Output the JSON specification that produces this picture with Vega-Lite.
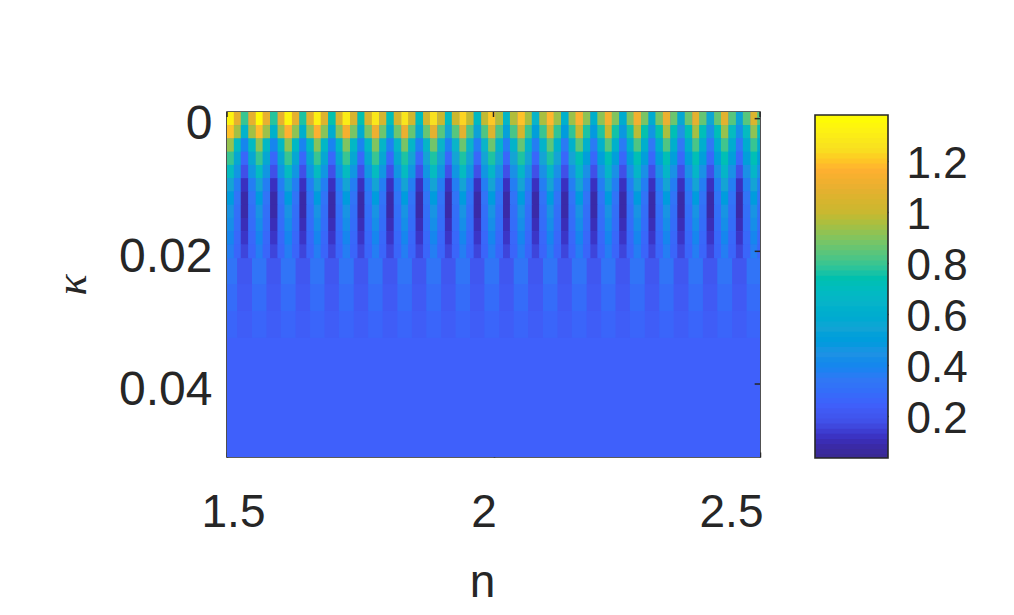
{"$schema":"https://vega.github.io/schema/vega-lite/v6.json","padding":{"left":49,"top":99,"right":0,"bottom":0},"background":"white","spacing":50,"config":{"font":"Liberation Sans","axis":{"grid":false}},
"datasets":{"h":[
{"n":1.506,"k":0,"v":1.33},{"n":1.52,"k":0,"v":1.09},{"n":1.533,"k":0,"v":0.8},{"n":1.547,"k":0,"v":1.09},{"n":1.561,"k":0,"v":1.36},{"n":1.574,"k":0,"v":1.1},{"n":1.588,"k":0,"v":0.78},{"n":1.602,"k":0,"v":1.1},{"n":1.615,"k":0,"v":1.34},{"n":1.629,"k":0,"v":1.09},{"n":1.643,"k":0,"v":0.77},{"n":1.656,"k":0,"v":1.09},{"n":1.67,"k":0,"v":1.32},{"n":1.683,"k":0,"v":1.07},{"n":1.697,"k":0,"v":0.75},{"n":1.711,"k":0,"v":1.07},{"n":1.724,"k":0,"v":1.3},{"n":1.738,"k":0,"v":1.05},{"n":1.752,"k":0,"v":0.74},{"n":1.765,"k":0,"v":1.05},{"n":1.779,"k":0,"v":1.28},{"n":1.793,"k":0,"v":1.04},{"n":1.806,"k":0,"v":0.72},{"n":1.82,"k":0,"v":1.04},{"n":1.834,"k":0,"v":1.27},{"n":1.847,"k":0,"v":1.03},{"n":1.861,"k":0,"v":0.71},{"n":1.875,"k":0,"v":1.03},{"n":1.888,"k":0,"v":1.25},{"n":1.902,"k":0,"v":1.01},{"n":1.916,"k":0,"v":0.69},{"n":1.929,"k":0,"v":1.01},{"n":1.943,"k":0,"v":1.23},{"n":1.956,"k":0,"v":0.99},{"n":1.97,"k":0,"v":0.68},{"n":1.984,"k":0,"v":0.99},{"n":1.997,"k":0,"v":1.21},{"n":2.011,"k":0,"v":0.97},{"n":2.025,"k":0,"v":0.66},{"n":2.038,"k":0,"v":0.97},{"n":2.052,"k":0,"v":1.2},{"n":2.066,"k":0,"v":0.96},{"n":2.079,"k":0,"v":0.65},{"n":2.093,"k":0,"v":0.96},{"n":2.107,"k":0,"v":1.18},{"n":2.12,"k":0,"v":0.94},{"n":2.134,"k":0,"v":0.63},{"n":2.148,"k":0,"v":0.94},{"n":2.161,"k":0,"v":1.16},{"n":2.175,"k":0,"v":0.92},{"n":2.189,"k":0,"v":0.62},{"n":2.202,"k":0,"v":0.92},{"n":2.216,"k":0,"v":1.14},{"n":2.229,"k":0,"v":0.9},{"n":2.243,"k":0,"v":0.6},{"n":2.257,"k":0,"v":0.9},{"n":2.27,"k":0,"v":1.13},{"n":2.284,"k":0,"v":0.89},{"n":2.298,"k":0,"v":0.59},{"n":2.311,"k":0,"v":0.89},{"n":2.325,"k":0,"v":1.11},{"n":2.339,"k":0,"v":0.87},{"n":2.352,"k":0,"v":0.57},{"n":2.366,"k":0,"v":0.87},{"n":2.38,"k":0,"v":1.09},{"n":2.393,"k":0,"v":0.86},{"n":2.407,"k":0,"v":0.56},{"n":2.421,"k":0,"v":0.86},{"n":2.434,"k":0,"v":1.08},{"n":2.448,"k":0,"v":0.84},{"n":2.462,"k":0,"v":0.54},{"n":2.475,"k":0,"v":0.84},{"n":2.489,"k":0,"v":1.06},{"n":2.502,"k":0,"v":0.83},
{"n":1.506,"k":0.002,"v":1.2},{"n":1.52,"k":0.002,"v":0.95},{"n":1.533,"k":0.002,"v":0.64},{"n":1.547,"k":0.002,"v":0.95},{"n":1.561,"k":0.002,"v":1.19},{"n":1.574,"k":0.002,"v":0.94},{"n":1.588,"k":0.002,"v":0.63},{"n":1.602,"k":0.002,"v":0.94},{"n":1.615,"k":0.002,"v":1.17},{"n":1.629,"k":0.002,"v":0.92},{"n":1.643,"k":0.002,"v":0.62},{"n":1.656,"k":0.002,"v":0.92},{"n":1.67,"k":0.002,"v":1.16},{"n":1.683,"k":0.002,"v":0.91},{"n":1.697,"k":0.002,"v":0.6},{"n":1.711,"k":0.002,"v":0.91},{"n":1.724,"k":0.002,"v":1.14},{"n":1.738,"k":0.002,"v":0.89},{"n":1.752,"k":0.002,"v":0.59},{"n":1.765,"k":0.002,"v":0.89},{"n":1.779,"k":0.002,"v":1.12},{"n":1.793,"k":0.002,"v":0.87},{"n":1.806,"k":0.002,"v":0.58},{"n":1.82,"k":0.002,"v":0.87},{"n":1.834,"k":0.002,"v":1.11},{"n":1.847,"k":0.002,"v":0.86},{"n":1.861,"k":0.002,"v":0.57},{"n":1.875,"k":0.002,"v":0.86},{"n":1.888,"k":0.002,"v":1.09},{"n":1.902,"k":0.002,"v":0.84},{"n":1.916,"k":0.002,"v":0.55},{"n":1.929,"k":0.002,"v":0.84},{"n":1.943,"k":0.002,"v":1.08},{"n":1.956,"k":0.002,"v":0.83},{"n":1.97,"k":0.002,"v":0.54},{"n":1.984,"k":0.002,"v":0.83},{"n":1.997,"k":0.002,"v":1.06},{"n":2.011,"k":0.002,"v":0.82},{"n":2.025,"k":0.002,"v":0.53},{"n":2.038,"k":0.002,"v":0.82},{"n":2.052,"k":0.002,"v":1.04},{"n":2.066,"k":0.002,"v":0.8},{"n":2.079,"k":0.002,"v":0.52},{"n":2.093,"k":0.002,"v":0.8},{"n":2.107,"k":0.002,"v":1.03},{"n":2.12,"k":0.002,"v":0.79},{"n":2.134,"k":0.002,"v":0.5},{"n":2.148,"k":0.002,"v":0.79},{"n":2.161,"k":0.002,"v":1.01},{"n":2.175,"k":0.002,"v":0.77},{"n":2.189,"k":0.002,"v":0.49},{"n":2.202,"k":0.002,"v":0.77},{"n":2.216,"k":0.002,"v":1.0},{"n":2.229,"k":0.002,"v":0.76},{"n":2.243,"k":0.002,"v":0.48},{"n":2.257,"k":0.002,"v":0.76},{"n":2.27,"k":0.002,"v":0.98},{"n":2.284,"k":0.002,"v":0.75},{"n":2.298,"k":0.002,"v":0.47},{"n":2.311,"k":0.002,"v":0.75},{"n":2.325,"k":0.002,"v":0.96},{"n":2.339,"k":0.002,"v":0.73},{"n":2.352,"k":0.002,"v":0.45},{"n":2.366,"k":0.002,"v":0.73},{"n":2.38,"k":0.002,"v":0.95},{"n":2.393,"k":0.002,"v":0.72},{"n":2.407,"k":0.002,"v":0.44},{"n":2.421,"k":0.002,"v":0.72},{"n":2.434,"k":0.002,"v":0.93},{"n":2.448,"k":0.002,"v":0.7},{"n":2.462,"k":0.002,"v":0.43},{"n":2.475,"k":0.002,"v":0.7},{"n":2.489,"k":0.002,"v":0.92},{"n":2.502,"k":0.002,"v":0.69},
{"n":1.506,"k":0.004,"v":0.93},{"n":1.52,"k":0.004,"v":0.69},{"n":1.533,"k":0.004,"v":0.4},{"n":1.547,"k":0.004,"v":0.69},{"n":1.561,"k":0.004,"v":0.92},{"n":1.574,"k":0.004,"v":0.68},{"n":1.588,"k":0.004,"v":0.4},{"n":1.602,"k":0.004,"v":0.68},{"n":1.615,"k":0.004,"v":0.92},{"n":1.629,"k":0.004,"v":0.68},{"n":1.643,"k":0.004,"v":0.39},{"n":1.656,"k":0.004,"v":0.68},{"n":1.67,"k":0.004,"v":0.91},{"n":1.683,"k":0.004,"v":0.67},{"n":1.697,"k":0.004,"v":0.39},{"n":1.711,"k":0.004,"v":0.67},{"n":1.724,"k":0.004,"v":0.9},{"n":1.738,"k":0.004,"v":0.67},{"n":1.752,"k":0.004,"v":0.39},{"n":1.765,"k":0.004,"v":0.67},{"n":1.779,"k":0.004,"v":0.9},{"n":1.793,"k":0.004,"v":0.66},{"n":1.806,"k":0.004,"v":0.38},{"n":1.82,"k":0.004,"v":0.66},{"n":1.834,"k":0.004,"v":0.89},{"n":1.847,"k":0.004,"v":0.66},{"n":1.861,"k":0.004,"v":0.38},{"n":1.875,"k":0.004,"v":0.66},{"n":1.888,"k":0.004,"v":0.88},{"n":1.902,"k":0.004,"v":0.65},{"n":1.916,"k":0.004,"v":0.38},{"n":1.929,"k":0.004,"v":0.65},{"n":1.943,"k":0.004,"v":0.87},{"n":1.956,"k":0.004,"v":0.65},{"n":1.97,"k":0.004,"v":0.37},{"n":1.984,"k":0.004,"v":0.65},{"n":1.997,"k":0.004,"v":0.87},{"n":2.011,"k":0.004,"v":0.64},{"n":2.025,"k":0.004,"v":0.37},{"n":2.038,"k":0.004,"v":0.64},{"n":2.052,"k":0.004,"v":0.86},{"n":2.066,"k":0.004,"v":0.64},{"n":2.079,"k":0.004,"v":0.37},{"n":2.093,"k":0.004,"v":0.64},{"n":2.107,"k":0.004,"v":0.85},{"n":2.12,"k":0.004,"v":0.63},{"n":2.134,"k":0.004,"v":0.36},{"n":2.148,"k":0.004,"v":0.63},{"n":2.161,"k":0.004,"v":0.85},{"n":2.175,"k":0.004,"v":0.63},{"n":2.189,"k":0.004,"v":0.36},{"n":2.202,"k":0.004,"v":0.63},{"n":2.216,"k":0.004,"v":0.84},{"n":2.229,"k":0.004,"v":0.63},{"n":2.243,"k":0.004,"v":0.36},{"n":2.257,"k":0.004,"v":0.63},{"n":2.27,"k":0.004,"v":0.83},{"n":2.284,"k":0.004,"v":0.62},{"n":2.298,"k":0.004,"v":0.35},{"n":2.311,"k":0.004,"v":0.62},{"n":2.325,"k":0.004,"v":0.83},{"n":2.339,"k":0.004,"v":0.62},{"n":2.352,"k":0.004,"v":0.35},{"n":2.366,"k":0.004,"v":0.62},{"n":2.38,"k":0.004,"v":0.82},{"n":2.393,"k":0.004,"v":0.61},{"n":2.407,"k":0.004,"v":0.35},{"n":2.421,"k":0.004,"v":0.61},{"n":2.434,"k":0.004,"v":0.81},{"n":2.448,"k":0.004,"v":0.6},{"n":2.462,"k":0.004,"v":0.34},{"n":2.475,"k":0.004,"v":0.6},{"n":2.489,"k":0.004,"v":0.8},{"n":2.502,"k":0.004,"v":0.6},
{"n":1.506,"k":0.006,"v":0.8},{"n":1.52,"k":0.006,"v":0.57},{"n":1.533,"k":0.006,"v":0.28},{"n":1.547,"k":0.006,"v":0.57},{"n":1.561,"k":0.006,"v":0.8},{"n":1.574,"k":0.006,"v":0.57},{"n":1.588,"k":0.006,"v":0.28},{"n":1.602,"k":0.006,"v":0.57},{"n":1.615,"k":0.006,"v":0.8},{"n":1.629,"k":0.006,"v":0.57},{"n":1.643,"k":0.006,"v":0.28},{"n":1.656,"k":0.006,"v":0.57},{"n":1.67,"k":0.006,"v":0.8},{"n":1.683,"k":0.006,"v":0.57},{"n":1.697,"k":0.006,"v":0.28},{"n":1.711,"k":0.006,"v":0.57},{"n":1.724,"k":0.006,"v":0.8},{"n":1.738,"k":0.006,"v":0.57},{"n":1.752,"k":0.006,"v":0.28},{"n":1.765,"k":0.006,"v":0.57},{"n":1.779,"k":0.006,"v":0.8},{"n":1.793,"k":0.006,"v":0.57},{"n":1.806,"k":0.006,"v":0.28},{"n":1.82,"k":0.006,"v":0.57},{"n":1.834,"k":0.006,"v":0.77},{"n":1.847,"k":0.006,"v":0.55},{"n":1.861,"k":0.006,"v":0.28},{"n":1.875,"k":0.006,"v":0.55},{"n":1.888,"k":0.006,"v":0.77},{"n":1.902,"k":0.006,"v":0.55},{"n":1.916,"k":0.006,"v":0.28},{"n":1.929,"k":0.006,"v":0.55},{"n":1.943,"k":0.006,"v":0.77},{"n":1.956,"k":0.006,"v":0.55},{"n":1.97,"k":0.006,"v":0.28},{"n":1.984,"k":0.006,"v":0.55},{"n":1.997,"k":0.006,"v":0.77},{"n":2.011,"k":0.006,"v":0.55},{"n":2.025,"k":0.006,"v":0.28},{"n":2.038,"k":0.006,"v":0.55},{"n":2.052,"k":0.006,"v":0.77},{"n":2.066,"k":0.006,"v":0.55},{"n":2.079,"k":0.006,"v":0.28},{"n":2.093,"k":0.006,"v":0.55},{"n":2.107,"k":0.006,"v":0.77},{"n":2.12,"k":0.006,"v":0.55},{"n":2.134,"k":0.006,"v":0.28},{"n":2.148,"k":0.006,"v":0.55},{"n":2.161,"k":0.006,"v":0.73},{"n":2.175,"k":0.006,"v":0.52},{"n":2.189,"k":0.006,"v":0.28},{"n":2.202,"k":0.006,"v":0.52},{"n":2.216,"k":0.006,"v":0.73},{"n":2.229,"k":0.006,"v":0.52},{"n":2.243,"k":0.006,"v":0.28},{"n":2.257,"k":0.006,"v":0.52},{"n":2.27,"k":0.006,"v":0.73},{"n":2.284,"k":0.006,"v":0.52},{"n":2.298,"k":0.006,"v":0.28},{"n":2.311,"k":0.006,"v":0.52},{"n":2.325,"k":0.006,"v":0.73},{"n":2.339,"k":0.006,"v":0.52},{"n":2.352,"k":0.006,"v":0.28},{"n":2.366,"k":0.006,"v":0.52},{"n":2.38,"k":0.006,"v":0.73},{"n":2.393,"k":0.006,"v":0.52},{"n":2.407,"k":0.006,"v":0.28},{"n":2.421,"k":0.006,"v":0.52},{"n":2.434,"k":0.006,"v":0.73},{"n":2.448,"k":0.006,"v":0.52},{"n":2.462,"k":0.006,"v":0.28},{"n":2.475,"k":0.006,"v":0.52},{"n":2.489,"k":0.006,"v":0.73},{"n":2.502,"k":0.006,"v":0.52},
{"n":1.506,"k":0.008,"v":0.7},{"n":1.52,"k":0.008,"v":0.47},{"n":1.533,"k":0.008,"v":0.18},{"n":1.547,"k":0.008,"v":0.47},{"n":1.561,"k":0.008,"v":0.7},{"n":1.574,"k":0.008,"v":0.47},{"n":1.588,"k":0.008,"v":0.18},{"n":1.602,"k":0.008,"v":0.47},{"n":1.615,"k":0.008,"v":0.7},{"n":1.629,"k":0.008,"v":0.47},{"n":1.643,"k":0.008,"v":0.18},{"n":1.656,"k":0.008,"v":0.47},{"n":1.67,"k":0.008,"v":0.7},{"n":1.683,"k":0.008,"v":0.47},{"n":1.697,"k":0.008,"v":0.18},{"n":1.711,"k":0.008,"v":0.47},{"n":1.724,"k":0.008,"v":0.7},{"n":1.738,"k":0.008,"v":0.47},{"n":1.752,"k":0.008,"v":0.18},{"n":1.765,"k":0.008,"v":0.47},{"n":1.779,"k":0.008,"v":0.7},{"n":1.793,"k":0.008,"v":0.47},{"n":1.806,"k":0.008,"v":0.18},{"n":1.82,"k":0.008,"v":0.47},{"n":1.834,"k":0.008,"v":0.7},{"n":1.847,"k":0.008,"v":0.47},{"n":1.861,"k":0.008,"v":0.18},{"n":1.875,"k":0.008,"v":0.47},{"n":1.888,"k":0.008,"v":0.7},{"n":1.902,"k":0.008,"v":0.47},{"n":1.916,"k":0.008,"v":0.18},{"n":1.929,"k":0.008,"v":0.47},{"n":1.943,"k":0.008,"v":0.7},{"n":1.956,"k":0.008,"v":0.47},{"n":1.97,"k":0.008,"v":0.18},{"n":1.984,"k":0.008,"v":0.47},{"n":1.997,"k":0.008,"v":0.66},{"n":2.011,"k":0.008,"v":0.44},{"n":2.025,"k":0.008,"v":0.18},{"n":2.038,"k":0.008,"v":0.44},{"n":2.052,"k":0.008,"v":0.66},{"n":2.066,"k":0.008,"v":0.44},{"n":2.079,"k":0.008,"v":0.18},{"n":2.093,"k":0.008,"v":0.44},{"n":2.107,"k":0.008,"v":0.66},{"n":2.12,"k":0.008,"v":0.44},{"n":2.134,"k":0.008,"v":0.18},{"n":2.148,"k":0.008,"v":0.44},{"n":2.161,"k":0.008,"v":0.66},{"n":2.175,"k":0.008,"v":0.44},{"n":2.189,"k":0.008,"v":0.18},{"n":2.202,"k":0.008,"v":0.44},{"n":2.216,"k":0.008,"v":0.66},{"n":2.229,"k":0.008,"v":0.44},{"n":2.243,"k":0.008,"v":0.18},{"n":2.257,"k":0.008,"v":0.44},{"n":2.27,"k":0.008,"v":0.66},{"n":2.284,"k":0.008,"v":0.44},{"n":2.298,"k":0.008,"v":0.18},{"n":2.311,"k":0.008,"v":0.44},{"n":2.325,"k":0.008,"v":0.66},{"n":2.339,"k":0.008,"v":0.44},{"n":2.352,"k":0.008,"v":0.18},{"n":2.366,"k":0.008,"v":0.44},{"n":2.38,"k":0.008,"v":0.66},{"n":2.393,"k":0.008,"v":0.44},{"n":2.407,"k":0.008,"v":0.18},{"n":2.421,"k":0.008,"v":0.44},{"n":2.434,"k":0.008,"v":0.66},{"n":2.448,"k":0.008,"v":0.44},{"n":2.462,"k":0.008,"v":0.18},{"n":2.475,"k":0.008,"v":0.44},{"n":2.489,"k":0.008,"v":0.66},{"n":2.502,"k":0.008,"v":0.44},
{"n":1.506,"k":0.01,"v":0.55},{"n":1.52,"k":0.01,"v":0.37},{"n":1.533,"k":0.01,"v":0.12},{"n":1.547,"k":0.01,"v":0.37},{"n":1.561,"k":0.01,"v":0.55},{"n":1.574,"k":0.01,"v":0.37},{"n":1.588,"k":0.01,"v":0.12},{"n":1.602,"k":0.01,"v":0.37},{"n":1.615,"k":0.01,"v":0.55},{"n":1.629,"k":0.01,"v":0.37},{"n":1.643,"k":0.01,"v":0.12},{"n":1.656,"k":0.01,"v":0.37},{"n":1.67,"k":0.01,"v":0.55},{"n":1.683,"k":0.01,"v":0.37},{"n":1.697,"k":0.01,"v":0.12},{"n":1.711,"k":0.01,"v":0.37},{"n":1.724,"k":0.01,"v":0.55},{"n":1.738,"k":0.01,"v":0.37},{"n":1.752,"k":0.01,"v":0.12},{"n":1.765,"k":0.01,"v":0.37},{"n":1.779,"k":0.01,"v":0.55},{"n":1.793,"k":0.01,"v":0.37},{"n":1.806,"k":0.01,"v":0.12},{"n":1.82,"k":0.01,"v":0.37},{"n":1.834,"k":0.01,"v":0.55},{"n":1.847,"k":0.01,"v":0.37},{"n":1.861,"k":0.01,"v":0.12},{"n":1.875,"k":0.01,"v":0.37},{"n":1.888,"k":0.01,"v":0.55},{"n":1.902,"k":0.01,"v":0.37},{"n":1.916,"k":0.01,"v":0.12},{"n":1.929,"k":0.01,"v":0.37},{"n":1.943,"k":0.01,"v":0.55},{"n":1.956,"k":0.01,"v":0.37},{"n":1.97,"k":0.01,"v":0.12},{"n":1.984,"k":0.01,"v":0.37},{"n":1.997,"k":0.01,"v":0.55},{"n":2.011,"k":0.01,"v":0.37},{"n":2.025,"k":0.01,"v":0.12},{"n":2.038,"k":0.01,"v":0.37},{"n":2.052,"k":0.01,"v":0.55},{"n":2.066,"k":0.01,"v":0.37},{"n":2.079,"k":0.01,"v":0.12},{"n":2.093,"k":0.01,"v":0.37},{"n":2.107,"k":0.01,"v":0.55},{"n":2.12,"k":0.01,"v":0.37},{"n":2.134,"k":0.01,"v":0.12},{"n":2.148,"k":0.01,"v":0.37},{"n":2.161,"k":0.01,"v":0.55},{"n":2.175,"k":0.01,"v":0.37},{"n":2.189,"k":0.01,"v":0.12},{"n":2.202,"k":0.01,"v":0.37},{"n":2.216,"k":0.01,"v":0.55},{"n":2.229,"k":0.01,"v":0.37},{"n":2.243,"k":0.01,"v":0.12},{"n":2.257,"k":0.01,"v":0.37},{"n":2.27,"k":0.01,"v":0.55},{"n":2.284,"k":0.01,"v":0.37},{"n":2.298,"k":0.01,"v":0.12},{"n":2.311,"k":0.01,"v":0.37},{"n":2.325,"k":0.01,"v":0.55},{"n":2.339,"k":0.01,"v":0.37},{"n":2.352,"k":0.01,"v":0.12},{"n":2.366,"k":0.01,"v":0.37},{"n":2.38,"k":0.01,"v":0.55},{"n":2.393,"k":0.01,"v":0.37},{"n":2.407,"k":0.01,"v":0.12},{"n":2.421,"k":0.01,"v":0.37},{"n":2.434,"k":0.01,"v":0.55},{"n":2.448,"k":0.01,"v":0.37},{"n":2.462,"k":0.01,"v":0.12},{"n":2.475,"k":0.01,"v":0.37},{"n":2.489,"k":0.01,"v":0.55},{"n":2.502,"k":0.01,"v":0.37},
{"n":1.506,"k":0.012,"v":0.5},{"n":1.52,"k":0.012,"v":0.33},{"n":1.533,"k":0.012,"v":0.09},{"n":1.547,"k":0.012,"v":0.33},{"n":1.561,"k":0.012,"v":0.5},{"n":1.574,"k":0.012,"v":0.33},{"n":1.588,"k":0.012,"v":0.09},{"n":1.602,"k":0.012,"v":0.33},{"n":1.615,"k":0.012,"v":0.5},{"n":1.629,"k":0.012,"v":0.33},{"n":1.643,"k":0.012,"v":0.09},{"n":1.656,"k":0.012,"v":0.33},{"n":1.67,"k":0.012,"v":0.5},{"n":1.683,"k":0.012,"v":0.33},{"n":1.697,"k":0.012,"v":0.09},{"n":1.711,"k":0.012,"v":0.33},{"n":1.724,"k":0.012,"v":0.5},{"n":1.738,"k":0.012,"v":0.33},{"n":1.752,"k":0.012,"v":0.09},{"n":1.765,"k":0.012,"v":0.33},{"n":1.779,"k":0.012,"v":0.5},{"n":1.793,"k":0.012,"v":0.33},{"n":1.806,"k":0.012,"v":0.09},{"n":1.82,"k":0.012,"v":0.33},{"n":1.834,"k":0.012,"v":0.5},{"n":1.847,"k":0.012,"v":0.33},{"n":1.861,"k":0.012,"v":0.09},{"n":1.875,"k":0.012,"v":0.33},{"n":1.888,"k":0.012,"v":0.5},{"n":1.902,"k":0.012,"v":0.33},{"n":1.916,"k":0.012,"v":0.09},{"n":1.929,"k":0.012,"v":0.33},{"n":1.943,"k":0.012,"v":0.5},{"n":1.956,"k":0.012,"v":0.33},{"n":1.97,"k":0.012,"v":0.09},{"n":1.984,"k":0.012,"v":0.33},{"n":1.997,"k":0.012,"v":0.5},{"n":2.011,"k":0.012,"v":0.33},{"n":2.025,"k":0.012,"v":0.09},{"n":2.038,"k":0.012,"v":0.33},{"n":2.052,"k":0.012,"v":0.5},{"n":2.066,"k":0.012,"v":0.33},{"n":2.079,"k":0.012,"v":0.09},{"n":2.093,"k":0.012,"v":0.33},{"n":2.107,"k":0.012,"v":0.5},{"n":2.12,"k":0.012,"v":0.33},{"n":2.134,"k":0.012,"v":0.09},{"n":2.148,"k":0.012,"v":0.33},{"n":2.161,"k":0.012,"v":0.5},{"n":2.175,"k":0.012,"v":0.33},{"n":2.189,"k":0.012,"v":0.09},{"n":2.202,"k":0.012,"v":0.33},{"n":2.216,"k":0.012,"v":0.5},{"n":2.229,"k":0.012,"v":0.33},{"n":2.243,"k":0.012,"v":0.09},{"n":2.257,"k":0.012,"v":0.33},{"n":2.27,"k":0.012,"v":0.5},{"n":2.284,"k":0.012,"v":0.33},{"n":2.298,"k":0.012,"v":0.09},{"n":2.311,"k":0.012,"v":0.33},{"n":2.325,"k":0.012,"v":0.5},{"n":2.339,"k":0.012,"v":0.33},{"n":2.352,"k":0.012,"v":0.09},{"n":2.366,"k":0.012,"v":0.33},{"n":2.38,"k":0.012,"v":0.5},{"n":2.393,"k":0.012,"v":0.33},{"n":2.407,"k":0.012,"v":0.09},{"n":2.421,"k":0.012,"v":0.33},{"n":2.434,"k":0.012,"v":0.5},{"n":2.448,"k":0.012,"v":0.33},{"n":2.462,"k":0.012,"v":0.09},{"n":2.475,"k":0.012,"v":0.33},{"n":2.489,"k":0.012,"v":0.5},{"n":2.502,"k":0.012,"v":0.33},
{"n":1.506,"k":0.014,"v":0.46},{"n":1.52,"k":0.014,"v":0.31},{"n":1.533,"k":0.014,"v":0.09},{"n":1.547,"k":0.014,"v":0.31},{"n":1.561,"k":0.014,"v":0.46},{"n":1.574,"k":0.014,"v":0.31},{"n":1.588,"k":0.014,"v":0.09},{"n":1.602,"k":0.014,"v":0.31},{"n":1.615,"k":0.014,"v":0.46},{"n":1.629,"k":0.014,"v":0.31},{"n":1.643,"k":0.014,"v":0.09},{"n":1.656,"k":0.014,"v":0.31},{"n":1.67,"k":0.014,"v":0.46},{"n":1.683,"k":0.014,"v":0.31},{"n":1.697,"k":0.014,"v":0.09},{"n":1.711,"k":0.014,"v":0.31},{"n":1.724,"k":0.014,"v":0.46},{"n":1.738,"k":0.014,"v":0.31},{"n":1.752,"k":0.014,"v":0.09},{"n":1.765,"k":0.014,"v":0.31},{"n":1.779,"k":0.014,"v":0.46},{"n":1.793,"k":0.014,"v":0.31},{"n":1.806,"k":0.014,"v":0.09},{"n":1.82,"k":0.014,"v":0.31},{"n":1.834,"k":0.014,"v":0.46},{"n":1.847,"k":0.014,"v":0.31},{"n":1.861,"k":0.014,"v":0.09},{"n":1.875,"k":0.014,"v":0.31},{"n":1.888,"k":0.014,"v":0.46},{"n":1.902,"k":0.014,"v":0.31},{"n":1.916,"k":0.014,"v":0.09},{"n":1.929,"k":0.014,"v":0.31},{"n":1.943,"k":0.014,"v":0.46},{"n":1.956,"k":0.014,"v":0.31},{"n":1.97,"k":0.014,"v":0.09},{"n":1.984,"k":0.014,"v":0.31},{"n":1.997,"k":0.014,"v":0.46},{"n":2.011,"k":0.014,"v":0.31},{"n":2.025,"k":0.014,"v":0.09},{"n":2.038,"k":0.014,"v":0.31},{"n":2.052,"k":0.014,"v":0.46},{"n":2.066,"k":0.014,"v":0.31},{"n":2.079,"k":0.014,"v":0.09},{"n":2.093,"k":0.014,"v":0.31},{"n":2.107,"k":0.014,"v":0.46},{"n":2.12,"k":0.014,"v":0.31},{"n":2.134,"k":0.014,"v":0.09},{"n":2.148,"k":0.014,"v":0.31},{"n":2.161,"k":0.014,"v":0.46},{"n":2.175,"k":0.014,"v":0.31},{"n":2.189,"k":0.014,"v":0.09},{"n":2.202,"k":0.014,"v":0.31},{"n":2.216,"k":0.014,"v":0.46},{"n":2.229,"k":0.014,"v":0.31},{"n":2.243,"k":0.014,"v":0.09},{"n":2.257,"k":0.014,"v":0.31},{"n":2.27,"k":0.014,"v":0.46},{"n":2.284,"k":0.014,"v":0.31},{"n":2.298,"k":0.014,"v":0.09},{"n":2.311,"k":0.014,"v":0.31},{"n":2.325,"k":0.014,"v":0.46},{"n":2.339,"k":0.014,"v":0.31},{"n":2.352,"k":0.014,"v":0.09},{"n":2.366,"k":0.014,"v":0.31},{"n":2.38,"k":0.014,"v":0.46},{"n":2.393,"k":0.014,"v":0.31},{"n":2.407,"k":0.014,"v":0.09},{"n":2.421,"k":0.014,"v":0.31},{"n":2.434,"k":0.014,"v":0.46},{"n":2.448,"k":0.014,"v":0.31},{"n":2.462,"k":0.014,"v":0.09},{"n":2.475,"k":0.014,"v":0.31},{"n":2.489,"k":0.014,"v":0.46},{"n":2.502,"k":0.014,"v":0.31},
{"n":1.506,"k":0.016,"v":0.43},{"n":1.52,"k":0.016,"v":0.3},{"n":1.533,"k":0.016,"v":0.11},{"n":1.547,"k":0.016,"v":0.3},{"n":1.561,"k":0.016,"v":0.43},{"n":1.574,"k":0.016,"v":0.3},{"n":1.588,"k":0.016,"v":0.11},{"n":1.602,"k":0.016,"v":0.3},{"n":1.615,"k":0.016,"v":0.43},{"n":1.629,"k":0.016,"v":0.3},{"n":1.643,"k":0.016,"v":0.11},{"n":1.656,"k":0.016,"v":0.3},{"n":1.67,"k":0.016,"v":0.43},{"n":1.683,"k":0.016,"v":0.3},{"n":1.697,"k":0.016,"v":0.11},{"n":1.711,"k":0.016,"v":0.3},{"n":1.724,"k":0.016,"v":0.43},{"n":1.738,"k":0.016,"v":0.3},{"n":1.752,"k":0.016,"v":0.11},{"n":1.765,"k":0.016,"v":0.3},{"n":1.779,"k":0.016,"v":0.43},{"n":1.793,"k":0.016,"v":0.3},{"n":1.806,"k":0.016,"v":0.11},{"n":1.82,"k":0.016,"v":0.3},{"n":1.834,"k":0.016,"v":0.43},{"n":1.847,"k":0.016,"v":0.3},{"n":1.861,"k":0.016,"v":0.11},{"n":1.875,"k":0.016,"v":0.3},{"n":1.888,"k":0.016,"v":0.43},{"n":1.902,"k":0.016,"v":0.3},{"n":1.916,"k":0.016,"v":0.11},{"n":1.929,"k":0.016,"v":0.3},{"n":1.943,"k":0.016,"v":0.43},{"n":1.956,"k":0.016,"v":0.3},{"n":1.97,"k":0.016,"v":0.11},{"n":1.984,"k":0.016,"v":0.3},{"n":1.997,"k":0.016,"v":0.43},{"n":2.011,"k":0.016,"v":0.3},{"n":2.025,"k":0.016,"v":0.11},{"n":2.038,"k":0.016,"v":0.3},{"n":2.052,"k":0.016,"v":0.43},{"n":2.066,"k":0.016,"v":0.3},{"n":2.079,"k":0.016,"v":0.11},{"n":2.093,"k":0.016,"v":0.3},{"n":2.107,"k":0.016,"v":0.43},{"n":2.12,"k":0.016,"v":0.3},{"n":2.134,"k":0.016,"v":0.11},{"n":2.148,"k":0.016,"v":0.3},{"n":2.161,"k":0.016,"v":0.43},{"n":2.175,"k":0.016,"v":0.3},{"n":2.189,"k":0.016,"v":0.11},{"n":2.202,"k":0.016,"v":0.3},{"n":2.216,"k":0.016,"v":0.43},{"n":2.229,"k":0.016,"v":0.3},{"n":2.243,"k":0.016,"v":0.11},{"n":2.257,"k":0.016,"v":0.3},{"n":2.27,"k":0.016,"v":0.43},{"n":2.284,"k":0.016,"v":0.3},{"n":2.298,"k":0.016,"v":0.11},{"n":2.311,"k":0.016,"v":0.3},{"n":2.325,"k":0.016,"v":0.43},{"n":2.339,"k":0.016,"v":0.3},{"n":2.352,"k":0.016,"v":0.11},{"n":2.366,"k":0.016,"v":0.3},{"n":2.38,"k":0.016,"v":0.43},{"n":2.393,"k":0.016,"v":0.3},{"n":2.407,"k":0.016,"v":0.11},{"n":2.421,"k":0.016,"v":0.3},{"n":2.434,"k":0.016,"v":0.43},{"n":2.448,"k":0.016,"v":0.3},{"n":2.462,"k":0.016,"v":0.11},{"n":2.475,"k":0.016,"v":0.3},{"n":2.489,"k":0.016,"v":0.43},{"n":2.502,"k":0.016,"v":0.3},
{"n":1.506,"k":0.018,"v":0.4},{"n":1.52,"k":0.018,"v":0.28},{"n":1.533,"k":0.018,"v":0.13},{"n":1.547,"k":0.018,"v":0.28},{"n":1.561,"k":0.018,"v":0.4},{"n":1.574,"k":0.018,"v":0.28},{"n":1.588,"k":0.018,"v":0.13},{"n":1.602,"k":0.018,"v":0.28},{"n":1.615,"k":0.018,"v":0.4},{"n":1.629,"k":0.018,"v":0.28},{"n":1.643,"k":0.018,"v":0.13},{"n":1.656,"k":0.018,"v":0.28},{"n":1.67,"k":0.018,"v":0.4},{"n":1.683,"k":0.018,"v":0.28},{"n":1.697,"k":0.018,"v":0.13},{"n":1.711,"k":0.018,"v":0.28},{"n":1.724,"k":0.018,"v":0.4},{"n":1.738,"k":0.018,"v":0.28},{"n":1.752,"k":0.018,"v":0.13},{"n":1.765,"k":0.018,"v":0.28},{"n":1.779,"k":0.018,"v":0.4},{"n":1.793,"k":0.018,"v":0.28},{"n":1.806,"k":0.018,"v":0.13},{"n":1.82,"k":0.018,"v":0.28},{"n":1.834,"k":0.018,"v":0.4},{"n":1.847,"k":0.018,"v":0.28},{"n":1.861,"k":0.018,"v":0.13},{"n":1.875,"k":0.018,"v":0.28},{"n":1.888,"k":0.018,"v":0.4},{"n":1.902,"k":0.018,"v":0.28},{"n":1.916,"k":0.018,"v":0.13},{"n":1.929,"k":0.018,"v":0.28},{"n":1.943,"k":0.018,"v":0.4},{"n":1.956,"k":0.018,"v":0.28},{"n":1.97,"k":0.018,"v":0.13},{"n":1.984,"k":0.018,"v":0.28},{"n":1.997,"k":0.018,"v":0.4},{"n":2.011,"k":0.018,"v":0.28},{"n":2.025,"k":0.018,"v":0.13},{"n":2.038,"k":0.018,"v":0.28},{"n":2.052,"k":0.018,"v":0.4},{"n":2.066,"k":0.018,"v":0.28},{"n":2.079,"k":0.018,"v":0.13},{"n":2.093,"k":0.018,"v":0.28},{"n":2.107,"k":0.018,"v":0.4},{"n":2.12,"k":0.018,"v":0.28},{"n":2.134,"k":0.018,"v":0.13},{"n":2.148,"k":0.018,"v":0.28},{"n":2.161,"k":0.018,"v":0.4},{"n":2.175,"k":0.018,"v":0.28},{"n":2.189,"k":0.018,"v":0.13},{"n":2.202,"k":0.018,"v":0.28},{"n":2.216,"k":0.018,"v":0.4},{"n":2.229,"k":0.018,"v":0.28},{"n":2.243,"k":0.018,"v":0.13},{"n":2.257,"k":0.018,"v":0.28},{"n":2.27,"k":0.018,"v":0.4},{"n":2.284,"k":0.018,"v":0.28},{"n":2.298,"k":0.018,"v":0.13},{"n":2.311,"k":0.018,"v":0.28},{"n":2.325,"k":0.018,"v":0.4},{"n":2.339,"k":0.018,"v":0.28},{"n":2.352,"k":0.018,"v":0.13},{"n":2.366,"k":0.018,"v":0.28},{"n":2.38,"k":0.018,"v":0.4},{"n":2.393,"k":0.018,"v":0.28},{"n":2.407,"k":0.018,"v":0.13},{"n":2.421,"k":0.018,"v":0.28},{"n":2.434,"k":0.018,"v":0.4},{"n":2.448,"k":0.018,"v":0.28},{"n":2.462,"k":0.018,"v":0.13},{"n":2.475,"k":0.018,"v":0.28},{"n":2.489,"k":0.018,"v":0.4},{"n":2.502,"k":0.018,"v":0.28},
{"n":1.506,"k":0.02,"v":0.37},{"n":1.52,"k":0.02,"v":0.27},{"n":1.533,"k":0.02,"v":0.16},{"n":1.547,"k":0.02,"v":0.27},{"n":1.561,"k":0.02,"v":0.37},{"n":1.574,"k":0.02,"v":0.27},{"n":1.588,"k":0.02,"v":0.16},{"n":1.602,"k":0.02,"v":0.27},{"n":1.615,"k":0.02,"v":0.37},{"n":1.629,"k":0.02,"v":0.27},{"n":1.643,"k":0.02,"v":0.16},{"n":1.656,"k":0.02,"v":0.27},{"n":1.67,"k":0.02,"v":0.37},{"n":1.683,"k":0.02,"v":0.27},{"n":1.697,"k":0.02,"v":0.16},{"n":1.711,"k":0.02,"v":0.27},{"n":1.724,"k":0.02,"v":0.37},{"n":1.738,"k":0.02,"v":0.27},{"n":1.752,"k":0.02,"v":0.16},{"n":1.765,"k":0.02,"v":0.27},{"n":1.779,"k":0.02,"v":0.37},{"n":1.793,"k":0.02,"v":0.27},{"n":1.806,"k":0.02,"v":0.16},{"n":1.82,"k":0.02,"v":0.27},{"n":1.834,"k":0.02,"v":0.37},{"n":1.847,"k":0.02,"v":0.27},{"n":1.861,"k":0.02,"v":0.16},{"n":1.875,"k":0.02,"v":0.27},{"n":1.888,"k":0.02,"v":0.37},{"n":1.902,"k":0.02,"v":0.27},{"n":1.916,"k":0.02,"v":0.16},{"n":1.929,"k":0.02,"v":0.27},{"n":1.943,"k":0.02,"v":0.37},{"n":1.956,"k":0.02,"v":0.27},{"n":1.97,"k":0.02,"v":0.16},{"n":1.984,"k":0.02,"v":0.27},{"n":1.997,"k":0.02,"v":0.37},{"n":2.011,"k":0.02,"v":0.27},{"n":2.025,"k":0.02,"v":0.16},{"n":2.038,"k":0.02,"v":0.27},{"n":2.052,"k":0.02,"v":0.37},{"n":2.066,"k":0.02,"v":0.27},{"n":2.079,"k":0.02,"v":0.16},{"n":2.093,"k":0.02,"v":0.27},{"n":2.107,"k":0.02,"v":0.37},{"n":2.12,"k":0.02,"v":0.27},{"n":2.134,"k":0.02,"v":0.16},{"n":2.148,"k":0.02,"v":0.27},{"n":2.161,"k":0.02,"v":0.37},{"n":2.175,"k":0.02,"v":0.27},{"n":2.189,"k":0.02,"v":0.16},{"n":2.202,"k":0.02,"v":0.27},{"n":2.216,"k":0.02,"v":0.37},{"n":2.229,"k":0.02,"v":0.27},{"n":2.243,"k":0.02,"v":0.16},{"n":2.257,"k":0.02,"v":0.27},{"n":2.27,"k":0.02,"v":0.37},{"n":2.284,"k":0.02,"v":0.27},{"n":2.298,"k":0.02,"v":0.16},{"n":2.311,"k":0.02,"v":0.27},{"n":2.325,"k":0.02,"v":0.37},{"n":2.339,"k":0.02,"v":0.27},{"n":2.352,"k":0.02,"v":0.16},{"n":2.366,"k":0.02,"v":0.27},{"n":2.38,"k":0.02,"v":0.37},{"n":2.393,"k":0.02,"v":0.27},{"n":2.407,"k":0.02,"v":0.16},{"n":2.421,"k":0.02,"v":0.27},{"n":2.434,"k":0.02,"v":0.37},{"n":2.448,"k":0.02,"v":0.27},{"n":2.462,"k":0.02,"v":0.16},{"n":2.475,"k":0.02,"v":0.27},{"n":2.489,"k":0.02,"v":0.37},{"n":2.502,"k":0.02,"v":0.27}
],
"s":[
{"n":1.506,"k":0.023,"v":0.33},{"n":1.533,"k":0.023,"v":0.21},{"n":1.561,"k":0.023,"v":0.33},{"n":1.588,"k":0.023,"v":0.21},{"n":1.615,"k":0.023,"v":0.33},{"n":1.643,"k":0.023,"v":0.21},{"n":1.67,"k":0.023,"v":0.33},{"n":1.697,"k":0.023,"v":0.21},{"n":1.724,"k":0.023,"v":0.33},{"n":1.752,"k":0.023,"v":0.21},{"n":1.779,"k":0.023,"v":0.33},{"n":1.806,"k":0.023,"v":0.21},{"n":1.834,"k":0.023,"v":0.33},{"n":1.861,"k":0.023,"v":0.21},{"n":1.888,"k":0.023,"v":0.33},{"n":1.916,"k":0.023,"v":0.21},{"n":1.943,"k":0.023,"v":0.33},{"n":1.97,"k":0.023,"v":0.21},{"n":1.997,"k":0.023,"v":0.33},{"n":2.025,"k":0.023,"v":0.21},{"n":2.052,"k":0.023,"v":0.33},{"n":2.079,"k":0.023,"v":0.21},{"n":2.107,"k":0.023,"v":0.33},{"n":2.134,"k":0.023,"v":0.21},{"n":2.161,"k":0.023,"v":0.33},{"n":2.189,"k":0.023,"v":0.21},{"n":2.216,"k":0.023,"v":0.33},{"n":2.243,"k":0.023,"v":0.21},{"n":2.27,"k":0.023,"v":0.33},{"n":2.298,"k":0.023,"v":0.21},{"n":2.325,"k":0.023,"v":0.33},{"n":2.352,"k":0.023,"v":0.21},{"n":2.38,"k":0.023,"v":0.33},{"n":2.407,"k":0.023,"v":0.21},{"n":2.434,"k":0.023,"v":0.33},{"n":2.462,"k":0.023,"v":0.21},{"n":2.489,"k":0.023,"v":0.33},
{"n":1.506,"k":0.027,"v":0.295},{"n":1.533,"k":0.027,"v":0.225},{"n":1.561,"k":0.027,"v":0.295},{"n":1.588,"k":0.027,"v":0.225},{"n":1.615,"k":0.027,"v":0.295},{"n":1.643,"k":0.027,"v":0.225},{"n":1.67,"k":0.027,"v":0.295},{"n":1.697,"k":0.027,"v":0.225},{"n":1.724,"k":0.027,"v":0.295},{"n":1.752,"k":0.027,"v":0.225},{"n":1.779,"k":0.027,"v":0.295},{"n":1.806,"k":0.027,"v":0.225},{"n":1.834,"k":0.027,"v":0.295},{"n":1.861,"k":0.027,"v":0.225},{"n":1.888,"k":0.027,"v":0.295},{"n":1.916,"k":0.027,"v":0.225},{"n":1.943,"k":0.027,"v":0.295},{"n":1.97,"k":0.027,"v":0.225},{"n":1.997,"k":0.027,"v":0.295},{"n":2.025,"k":0.027,"v":0.225},{"n":2.052,"k":0.027,"v":0.295},{"n":2.079,"k":0.027,"v":0.225},{"n":2.107,"k":0.027,"v":0.295},{"n":2.134,"k":0.027,"v":0.225},{"n":2.161,"k":0.027,"v":0.295},{"n":2.189,"k":0.027,"v":0.225},{"n":2.216,"k":0.027,"v":0.295},{"n":2.243,"k":0.027,"v":0.225},{"n":2.27,"k":0.027,"v":0.295},{"n":2.298,"k":0.027,"v":0.225},{"n":2.325,"k":0.027,"v":0.295},{"n":2.352,"k":0.027,"v":0.225},{"n":2.38,"k":0.027,"v":0.295},{"n":2.407,"k":0.027,"v":0.225},{"n":2.434,"k":0.027,"v":0.295},{"n":2.462,"k":0.027,"v":0.225},{"n":2.489,"k":0.027,"v":0.295},
{"n":1.506,"k":0.031,"v":0.27},{"n":1.533,"k":0.031,"v":0.237},{"n":1.561,"k":0.031,"v":0.27},{"n":1.588,"k":0.031,"v":0.237},{"n":1.615,"k":0.031,"v":0.27},{"n":1.643,"k":0.031,"v":0.237},{"n":1.67,"k":0.031,"v":0.27},{"n":1.697,"k":0.031,"v":0.237},{"n":1.724,"k":0.031,"v":0.27},{"n":1.752,"k":0.031,"v":0.237},{"n":1.779,"k":0.031,"v":0.27},{"n":1.806,"k":0.031,"v":0.237},{"n":1.834,"k":0.031,"v":0.27},{"n":1.861,"k":0.031,"v":0.237},{"n":1.888,"k":0.031,"v":0.27},{"n":1.916,"k":0.031,"v":0.237},{"n":1.943,"k":0.031,"v":0.27},{"n":1.97,"k":0.031,"v":0.237},{"n":1.997,"k":0.031,"v":0.27},{"n":2.025,"k":0.031,"v":0.237},{"n":2.052,"k":0.031,"v":0.27},{"n":2.079,"k":0.031,"v":0.237},{"n":2.107,"k":0.031,"v":0.27},{"n":2.134,"k":0.031,"v":0.237},{"n":2.161,"k":0.031,"v":0.27},{"n":2.189,"k":0.031,"v":0.237},{"n":2.216,"k":0.031,"v":0.27},{"n":2.243,"k":0.031,"v":0.237},{"n":2.27,"k":0.031,"v":0.27},{"n":2.298,"k":0.031,"v":0.237},{"n":2.325,"k":0.031,"v":0.27},{"n":2.352,"k":0.031,"v":0.237},{"n":2.38,"k":0.031,"v":0.27},{"n":2.407,"k":0.031,"v":0.237},{"n":2.434,"k":0.031,"v":0.27},{"n":2.462,"k":0.031,"v":0.237},{"n":2.489,"k":0.031,"v":0.27}
],
"c":[{"v":0.045},{"v":0.065},{"v":0.085},{"v":0.105},{"v":0.125},{"v":0.145},{"v":0.165},{"v":0.185},{"v":0.205},{"v":0.225},{"v":0.245},{"v":0.265},{"v":0.285},{"v":0.305},{"v":0.325},{"v":0.345},{"v":0.365},{"v":0.385},{"v":0.405},{"v":0.425},{"v":0.445},{"v":0.465},{"v":0.485},{"v":0.505},{"v":0.525},{"v":0.545},{"v":0.565},{"v":0.585},{"v":0.605},{"v":0.625},{"v":0.645},{"v":0.665},{"v":0.685},{"v":0.705},{"v":0.725},{"v":0.745},{"v":0.765},{"v":0.785},{"v":0.805},{"v":0.825},{"v":0.845},{"v":0.865},{"v":0.885},{"v":0.905},{"v":0.925},{"v":0.945},{"v":0.965},{"v":0.985},{"v":1.005},{"v":1.025},{"v":1.045},{"v":1.065},{"v":1.085},{"v":1.105},{"v":1.125},{"v":1.145},{"v":1.165},{"v":1.185},{"v":1.205},{"v":1.225},{"v":1.245},{"v":1.265},{"v":1.285},{"v":1.305},{"v":1.325},{"v":1.345},{"v":1.365}]
},
"hconcat":[
{"width":533,"height":345,"view":{"stroke":"#262626","strokeWidth":1.6},
"layer":[
{"data":{"values":[{"v":0.25}]},"mark":{"type":"rect","clip":true},"encoding":{"x":{"datum":1.5,"type":"quantitative","scale":{"domain":[1.5,2.5],"nice":false,"zero":false},"axis":{"orient":"bottom","values":[1.5,2,2.5],"title":"n","titleFont":"Liberation Sans","titleFontWeight":"normal","titleFontSize":46,"titleColor":"#262626","titleX":255,"titlePadding":25,"labelFontSize":46,"labelColor":"#262626","labelPadding":38,"labelFlush":false,"labelOverlap":false,"labelExpr":"format(datum.value,'.3~f')","tickSize":-5,"tickColor":"#262626","tickWidth":1.5,"domain":false,"labelOffset":{"condition":[{"test":"datum.value==1.5","value":6},{"test":"datum.value==2","value":-10}],"value":-29}}},"x2":{"datum":2.5},"y":{"datum":-0.001,"type":"quantitative","scale":{"domain":[-0.001,0.051],"nice":false,"zero":false,"reverse":true},"axis":{"orient":"left","values":[0,0.02,0.04],"title":"κ","titleFont":"Liberation Serif","titleFontStyle":"italic","titleFontWeight":"normal","titleFontSize":44,"titleColor":"#262626","titlePadding":24,"labelFontSize":48,"labelColor":"#262626","labelPadding":20,"labelOverlap":false,"labelExpr":"format(datum.value,'~g')","tickSize":-5,"tickColor":"#262626","tickWidth":1.5,"domain":false,"labelOffset":6}},"y2":{"datum":0.051},"color":{"field":"v","type":"quantitative","legend":null,"scale":{"domain":[0.035,0.09,0.12,0.18,0.25,0.35,0.45,0.55,0.65,0.7,0.8,0.9,1.0,1.1,1.17,1.25,1.38],"range":["#3a2a8f","#3a2aa8","#3a30c0","#4050e8","#3f60fb","#3078f5","#1f92e4","#14a4d4","#0ab4c8","#05bbc0","#38c592","#80c460","#c8b830","#e8b030","#ffb030","#f8e020","#ffff00"]}}}},
{"data":{"name":"s"},"transform":[{"calculate":"datum.n-0.0141","as":"a"},{"calculate":"datum.n+0.0141","as":"b"},{"calculate":"datum.k-0.00203","as":"c"},{"calculate":"datum.k+0.00203","as":"d"}],"mark":{"type":"rect","clip":true},"encoding":{"x":{"field":"a","type":"quantitative"},"x2":{"field":"b"},"y":{"field":"c","type":"quantitative"},"y2":{"field":"d"},"color":{"field":"v","type":"quantitative"}}},
{"data":{"name":"h"},"transform":[{"calculate":"datum.n-0.0072","as":"a"},{"calculate":"datum.n+0.0072","as":"b"},{"calculate":"datum.k-0.00103","as":"c"},{"calculate":"datum.k+0.00103","as":"d"}],"mark":{"type":"rect","clip":true},"encoding":{"x":{"field":"a","type":"quantitative"},"x2":{"field":"b"},"y":{"field":"c","type":"quantitative"},"y2":{"field":"d"},"color":{"field":"v","type":"quantitative"}}},
{"data":{"values":[{"n":1.5,"p":-0.001,"q":-0.00025},{"n":2,"p":-0.001,"q":-0.00025},{"n":2.5,"p":-0.001,"q":-0.00025}]},"mark":{"type":"rule","color":"#262626","strokeWidth":1.5},"encoding":{"x":{"field":"n","type":"quantitative"},"y":{"field":"p","type":"quantitative"},"y2":{"field":"q"}}},
{"data":{"values":[{"k":0,"p":2.5,"q":2.99},{"k":0.02,"p":2.5,"q":2.99},{"k":0.04,"p":2.5,"q":2.99}]},"transform":[{"calculate":"2.49","as":"q"}],"mark":{"type":"rule","color":"#262626","strokeWidth":1.5},"encoding":{"y":{"field":"k","type":"quantitative"},"x":{"field":"p","type":"quantitative"},"x2":{"field":"q"}}}
]},
{"width":73,"height":346,"view":{"stroke":null},
"layer":[
{"data":{"name":"c"},"transform":[{"calculate":"datum.v-0.015","as":"a"},{"calculate":"datum.v+0.015","as":"b"}],"mark":{"type":"rect","clip":true},"encoding":{"x":{"datum":0,"type":"quantitative","scale":{"domain":[0,1]},"axis":null},"x2":{"datum":1},"y":{"field":"a","type":"quantitative","scale":{"domain":[0.035,1.392],"nice":false,"zero":false},"axis":{"orient":"right","values":[0.2,0.4,0.6,0.8,1,1.2],"title":null,"labelFontSize":44,"labelColor":"#262626","labelPadding":22,"labelOverlap":false,"labelExpr":"format(datum.value,'~g')","tickSize":-4,"tickColor":"#262626","tickWidth":1.5,"domain":false,"labelOffset":4}},"y2":{"field":"b"},"color":{"field":"v","type":"quantitative","legend":null,"scale":{"domain":[0.035,0.09,0.12,0.18,0.25,0.35,0.45,0.55,0.65,0.7,0.8,0.9,1.0,1.1,1.17,1.25,1.38],"range":["#3a2a8f","#3a2aa8","#3a30c0","#4050e8","#3f60fb","#3078f5","#1f92e4","#14a4d4","#0ab4c8","#05bbc0","#38c592","#80c460","#c8b830","#e8b030","#ffb030","#f8e020","#ffff00"]}}}},
{"data":{"values":[{"a":0.035,"b":1.38}]},"mark":{"type":"rect","fillOpacity":0,"stroke":"#262626","strokeWidth":1.6},"encoding":{"x":{"datum":0,"type":"quantitative"},"x2":{"datum":1},"y":{"field":"a","type":"quantitative"},"y2":{"field":"b"}}}
]}
]}
